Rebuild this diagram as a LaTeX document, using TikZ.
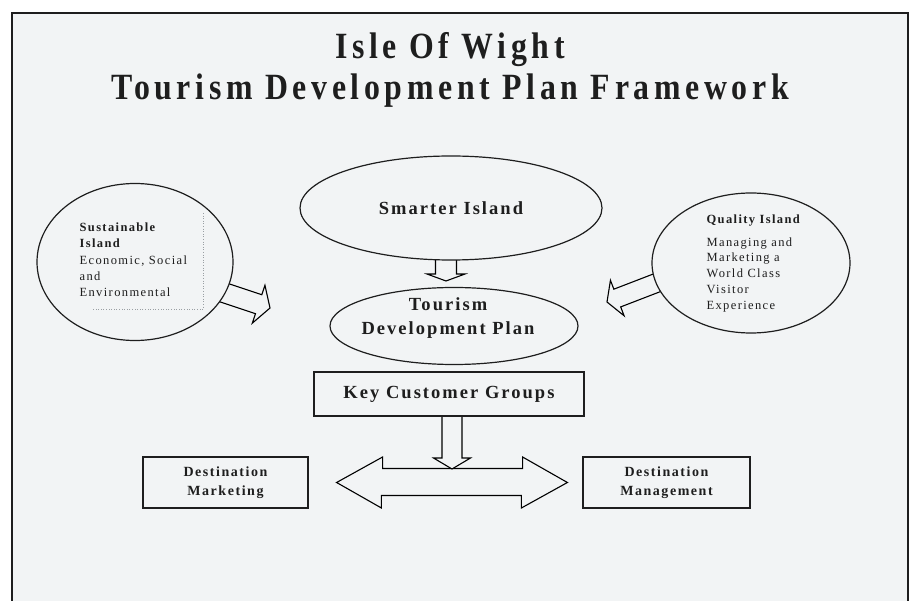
\documentclass[tikz,border=0pt]{standalone}
\usepackage{fontspec}
\setmainfont{Liberation Serif}
\newfontfamily\spaced[LetterSpace=11]{Liberation Serif}
\newfontfamily\narrow[LetterSpace=12.5,FakeStretch=0.86]{Liberation Serif}
\usepackage{xcolor}
\usepackage{tikz}
\usetikzlibrary{calc,shapes.geometric}
\definecolor{ink}{HTML}{1E1E1E}
\definecolor{paper}{HTML}{F2F4F5}
\definecolor{faint}{HTML}{9A9FA3}
\pgfdeclarelayer{back}
\pgfsetlayers{back,main}

% hollow block arrow from #1 to tip #2: half shaft #3, half head #4, head length #5
\newcommand{\blockarrow}[5]{%
  \coordinate (ba-b) at (#2);
  \coordinate (ba-t) at (#1);
  \coordinate (ba-a) at ($(ba-t)!-15pt!(ba-b)$);
  \coordinate (ba-h) at ($(ba-b)!#5pt!(ba-a)$);
  \draw[blockarrow] ($(ba-a)!#3pt!90:(ba-b)$) -- ($(ba-h)!#3pt!90:(ba-b)$)
    -- ($(ba-h)!#4pt!90:(ba-b)$) -- (ba-b) -- ($(ba-h)!#4pt!-90:(ba-b)$)
    -- ($(ba-h)!#3pt!-90:(ba-b)$) -- ($(ba-a)!#3pt!-90:(ba-b)$) -- cycle;}

\begin{document}
\begin{tikzpicture}[x=1pt,y=-1pt,color=ink,line width=1.2pt,
    isle/.style={ellipse,draw,fill=paper,inner sep=0pt,align=center},
    box/.style={rectangle,draw,fill=paper,inner sep=0pt,align=center},
    blockarrow/.style={draw,fill=paper,line width=1.1pt},
    heading/.style={font=\narrow\fontsize{37}{40}\selectfont\bfseries},
    bigtext/.style={font=\spaced\fontsize{18.5}{24}\selectfont\bfseries,align=center},
    boxtext/.style={font=\spaced\fontsize{14}{19}\selectfont\bfseries},
    smalltext/.style={font=\spaced\fontsize{12.5}{15.8}\selectfont,align=left,inner sep=0pt}]
  \useasboundingbox (0,0) rectangle (914,601);

  % frame
  \draw[line width=2pt] (12,601) -- (12,13) -- (908,13) -- (908,601);
  \node[heading,anchor=base] (title) at (450,59) {Isle Of Wight};
  \node[heading,anchor=base] (subtitle) at (450,100) {Tourism Development Plan Framework};

  % islands
  \node[isle,bigtext,minimum width=302pt,minimum height=104pt] (smart) at (451,208) {Smarter Island};
  \node[isle,minimum width=248pt,minimum height=77pt] (plan) at (454,326) {};
  \node[bigtext,inner sep=0pt] (plan-t) at (448,318) {Tourism\\Development Plan};
  \node[isle,minimum width=196pt,minimum height=157pt] (sust) at (135,262) {};
  \node[smalltext,anchor=north west] (sust-t) at (79,222)
    {\textbf{Sustainable}\\\textbf{Island}\\[2pt]Economic, Social\\and\\Environmental};
  \node[isle,minimum width=198pt,minimum height=140pt] (quality) at (751,263) {};
  \node[smalltext,anchor=north west] (quality-t) at (706,214)
    {\textbf{Quality Island}\\[7pt]Managing and\\Marketing a\\World Class\\Visitor\\Experience};
  \draw[faint,dotted,line width=0.6pt] (203,213) -- (203,309) -- (92,309);

  % boxes
  \node[box,bigtext,minimum width=270pt,minimum height=44pt] (kcg) at (449,394) {Key Customer Groups};
  \node[box,boxtext,minimum width=165pt,minimum height=51pt] (dmark) at (225.5,482.5) {Destination\\Marketing};
  \node[box,boxtext,minimum width=167pt,minimum height=51pt] (dman) at (666.5,482.5) {Destination\\Management};

  \begin{pgfonlayer}{back}
    \fill[paper] (12,13) rectangle (908,601);
    \coordinate (stip) at (446,281);
    \blockarrow{smart.south -| stip}{stip}{10.5}{19}{7}
    \blockarrow{sust.-19}{270,308}{10}{20}{12}
    \blockarrow{quality.192}{607,302}{9.5}{19}{11}
    % two-way arrow between the destination boxes
    \coordinate (dbl-l) at ($(dmark.east)+(28,0)$);
    \coordinate (dbl-r) at ($(dman.west)+(-15,0)$);
    \draw[blockarrow] (dbl-l) -- ++(46,-25.5) -- ++(0,11.5) -- ++(140,0) -- ++(0,-11.5)
      -- (dbl-r) -- ++(-46,25.5) -- ++(0,-12.5) -- ++(-140,0) -- ++(0,12.5) -- cycle;
    \coordinate (ktip) at (452,469);
    \blockarrow{kcg.south -| ktip}{ktip}{10}{18.5}{11}
  \end{pgfonlayer}
\end{tikzpicture}
\end{document}
